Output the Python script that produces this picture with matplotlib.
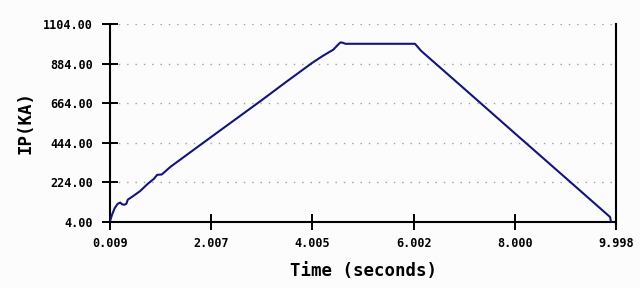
import numpy as np
import matplotlib
matplotlib.use("Agg")
import matplotlib.pyplot as plt

# plasma current trace
time_s = [0.009, 0.05, 0.10, 0.16, 0.21, 0.25, 0.29, 0.33, 0.36, 0.45, 0.60, 0.75, 0.88,
          0.94, 1.03, 1.10, 1.20, 2.00, 3.00, 3.50, 4.00, 4.20, 4.42, 4.52,
          4.56, 4.60, 4.66, 6.03, 6.15, 7.00, 8.00, 9.00, 9.88, 9.90]
ip_ka = [8, 45, 80, 105, 112, 102, 100, 104, 128, 145, 175, 215, 245,
         266, 268, 285, 310, 475, 680, 785, 888, 925, 962, 992,
         1002, 1000, 994, 994, 955, 745, 497, 250, 32, 6]

xticks = [0.009, 2.007, 4.005, 6.002, 8.000, 9.998]
xtick_labels = ["0.009", "2.007", "4.005", "6.002", "8.000", "9.998"]
yticks = [4, 224, 444, 664, 884, 1104]
ytick_labels = ["4.00", "224.00", "444.00", "664.00", "884.00", "1104.00"]

mono = "DejaVu Sans Mono"
bg = "#fcfcfc"

fig = plt.figure(figsize=(6.4, 2.88), dpi=100, facecolor=bg)
ax = fig.add_axes([110 / 640, 1 - 222 / 288, 506 / 640, 198 / 288], facecolor=bg)

ax.plot(time_s, ip_ka, color="#14147a", lw=1.5, solid_joinstyle="round", zorder=3)

ax.set_xlim(0.009, 9.998)
ax.set_ylim(4, 1104)
ax.set_xticks(xticks)
ax.set_xticklabels(xtick_labels, fontfamily=mono, fontsize=8.5, fontweight="bold")
ax.set_yticks(yticks)
ax.set_yticklabels(ytick_labels, fontfamily=mono, fontsize=8.5, fontweight="bold")
ax.tick_params(direction="inout", length=11, width=1.4, color="black")
ax.tick_params(axis="x", pad=5)
ax.tick_params(axis="y", pad=7)

for y in yticks[1:]:
    ax.axhline(y, color="#a0a0a0", lw=1.0, ls=(0, (1, 5)), zorder=1)

ax.spines["top"].set_visible(False)
for s in ["left", "bottom", "right"]:
    ax.spines[s].set_linewidth(1.5)
ax.spines["right"].set_bounds(-30, 1104)

ax.set_xlabel("Time (seconds)", fontfamily=mono, fontsize=12.5, fontweight="bold", labelpad=9)
ax.set_ylabel("IP(KA)", fontfamily=mono, fontsize=12.5, fontweight="bold", labelpad=6)

fig.savefig("out.png", dpi=100, facecolor=bg)
